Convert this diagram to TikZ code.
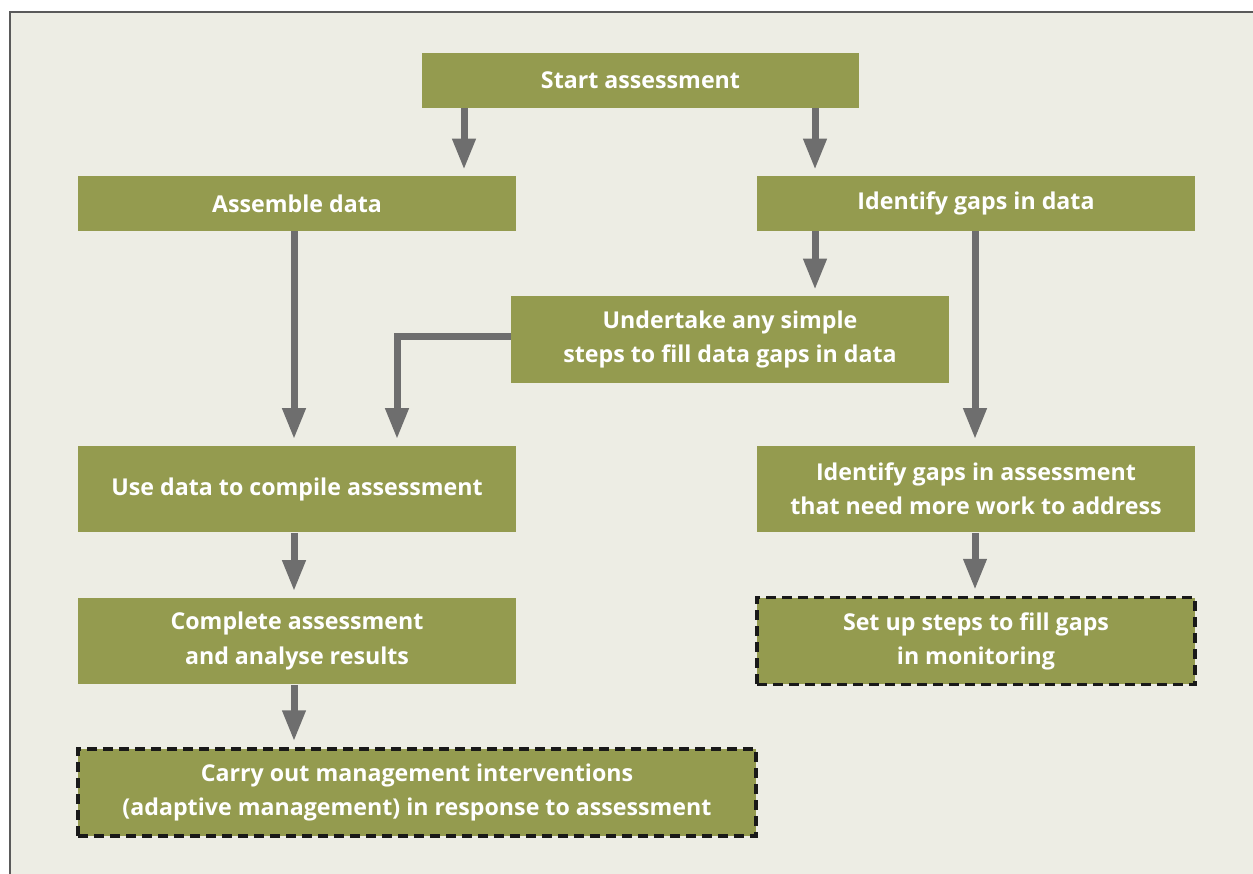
\documentclass[tikz,border=0pt]{standalone}
\usepackage{tikz}
\usepackage{xcolor}
\usepackage{fontspec}
\usetikzlibrary{arrows.meta}
\newfontfamily\boxfont{Open Sans}
\definecolor{olive}{HTML}{949B4F}
\definecolor{paper}{HTML}{EDEDE4}
\definecolor{arrgray}{HTML}{6E6E6E}
\definecolor{framegray}{HTML}{5A5A5A}

\begin{document}
\begin{tikzpicture}[x=0.02cm, y=0.02cm]
\tikzstyle{every node}+=[inner sep=0pt]
\tikzstyle{stage}=[fill=olive, text=white, font=\boxfont\bfseries\fontsize{13.2}{19.4}\selectfont, align=center, minimum width=8.76cm]
\tikzstyle{single}=[stage, minimum height=1.1cm]
\tikzstyle{double}=[stage, minimum height=1.74cm]
\tikzstyle{later}=[draw=black!90, line width=2pt, dash pattern=on 0.2cm off 0.12cm]
\tikzstyle{arr}=[arrgray, line width=0.14cm, -{Triangle[length=0.62cm, width=0.44cm]}, shorten >=0.12cm]
% background and frame
\useasboundingbox (0,0) rectangle (1253,-874);
\fill [white] (0,0) rectangle (1253,-874);
\fill [paper] (10,-12) rectangle (1253,-874);
\draw [framegray, line width=1.2pt] (10,-874) -- (10,-12) -- (1253,-12);
% stages
\node [single] (start) at (640.5,-80.5) {Start assessment};
\node [single] (assemble) at (297,-203.5) {Assemble data};
\node [single] (gapsdata) at (976,-203.5) {Identify gaps in data};
\node [double] (undertake) at (730,-339.5) {Undertake any simple\\steps to fill data gaps in data};
\node [double] (usedata) at (297,-489) {Use data to compile assessment};
\node [double] (gapsassess) at (976,-489) {Identify gaps in assessment\\that need more work to address};
\node [double] (complete) at (297,-641) {Complete assessment\\and analyse results};
\node [double, later] (setup) at (976,-641) {Set up steps to fill gaps\\in monitoring};
\node [double, later, minimum width=13.56cm] (carryout) at (417,-792.5) {Carry out management interventions\\(adaptive management) in response to assessment};
% arrow columns
\coordinate (c1) at (294,0);
\coordinate (c2) at (397,0);
\coordinate (c3) at (464,0);
\coordinate (c4) at (815,0);
\coordinate (c5) at (975,0);
\coordinate (bend) at (397,-337);
% arrows
\draw [arr] (start.south -| c3) -- (assemble.north -| c3);
\draw [arr] (start.south -| c4) -- (gapsdata.north -| c4);
\draw [arr] (assemble.south -| c1) -- (usedata.north -| c1);
\draw [arr] (gapsdata.south -| c4) -- (undertake.north -| c4);
\draw [arr] (gapsdata.south -| c5) -- (gapsassess.north -| c5);
\draw [arr] (undertake.west |- bend) -- (bend) -- (usedata.north -| c2);
\draw [arr] (usedata.south -| c1) -- (complete.north -| c1);
\draw [arr] (gapsassess.south -| c5) -- (setup.north -| c5);
\draw [arr] (complete.south -| c1) -- (carryout.north -| c1);
\end{tikzpicture}
\end{document}
